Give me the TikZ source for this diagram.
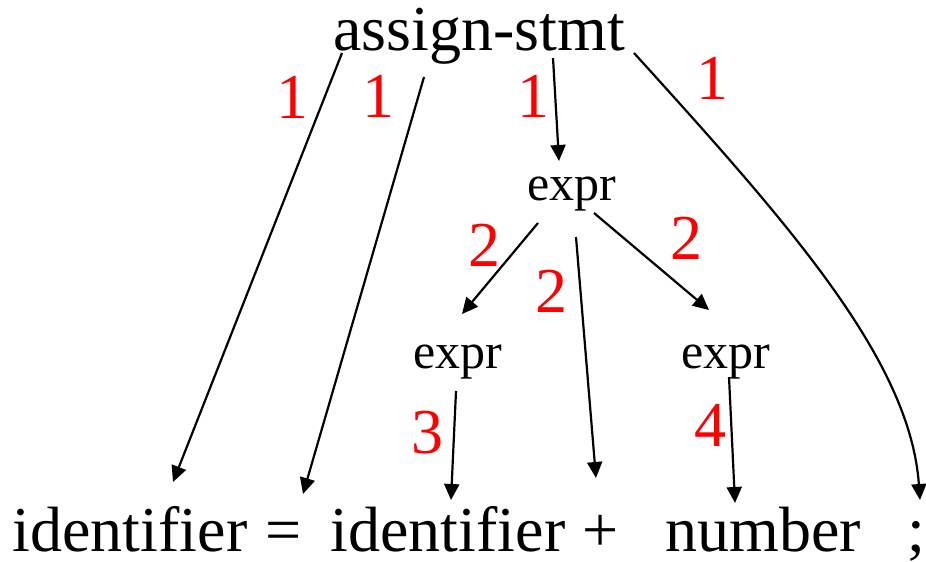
\documentclass[tikz,border=0pt]{standalone}
\usepackage{fontspec}
\setmainfont{LiberationSerif}[Extension=.ttf, UprightFont=*-Regular, BoldFont=*-Bold]
\usetikzlibrary{arrows.meta}

\tikzset{
  sym/.style={inner sep=0pt, anchor=base, font=\fontsize{32}{36}\selectfont},
  nt/.style={inner sep=0pt, anchor=base, font=\fontsize{25}{30}\selectfont},
  order/.style={inner sep=0pt, text=red, font=\fontsize{32}{36}\selectfont},
  arr/.style={line width=1.1pt, -{Triangle[length=8pt, width=7.5pt]}}
}

\begin{document}
\begin{tikzpicture}[x=0.5pt, y=-0.5pt]
  \useasboundingbox (0,0) rectangle (926,562);
  % tree nodes
  \node[sym] (stmt) at (479,50) {assign-stmt};
  \node[nt] (exprT) at (572,200) {expr};
  \node[nt] (exprL) at (458,368) {expr};
  \node[nt] (exprR) at (726,368) {expr};
  % token row
  \node[sym] (idA) at (130,551) {identifier};
  \node[sym] (eq) at (284,551) {=};
  \node[sym] (idB) at (448,551) {identifier};
  \node[sym] (plus) at (601,551) {+};
  \node[sym] (num) at (763,551) {number};
  \node[sym] (semi) at (916,551) {;};
  % edges of the tree
  \draw[arr] ([shift={(-137,3)}]stmt.base) -- ([shift={(43,-69)}]idA.base);
  \draw[arr] ([shift={(-55,27)}]stmt.base) -- ([shift={(19,-57)}]eq.base);
  \draw[arr] ([shift={(74,8)}]stmt.base) -- ([shift={(-13,-39)}]exprT.base);
  \draw[arr] ([shift={(155,3)}]stmt.base)
    .. controls (790,225) and (910,360) .. ([shift={(4,-51)}]semi.base);
  \draw[arr] ([shift={(-34,23)}]exprT.base) -- ([shift={(4,-54)}]exprL.base);
  \draw[arr] ([shift={(4,37)}]exprT.base) -- ([shift={(-5,-73)}]plus.base);
  \draw[arr] ([shift={(22,13)}]exprT.base) -- ([shift={(-17,-58)}]exprR.base);
  \draw[arr] ([shift={(-2,23)}]exprL.base) -- ([shift={(3,-51)}]idB.base);
  \draw[arr] ([shift={(3,9)}]exprR.base) -- ([shift={(-28,-48)}]num.base);
  % visiting order
  \node[order] (o1a) at (292,97) {1};
  \node[order] (o1b) at (378,96) {1};
  \node[order] (o1c) at (533,96) {1};
  \node[order] (o1d) at (712,78) {1};
  \node[order] (o2a) at (484,245) {2};
  \node[order] (o2b) at (551,291) {2};
  \node[order] (o2c) at (686,238) {2};
  \node[order] (o3) at (427,433) {3};
  \node[order] (o4) at (710,425) {4};
\end{tikzpicture}
\end{document}
